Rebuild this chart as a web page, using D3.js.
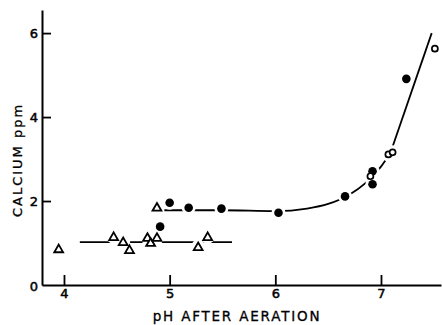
<!DOCTYPE html>
<html><head><meta charset="utf-8">
<script src="https://cdn.jsdelivr.net/npm/d3@7"></script>
<style>
body{margin:0;background:#fff;}
svg text{font-family:"DejaVu Sans",sans-serif;fill:#000;}
</style></head>
<body>
<svg id="c" width="442" height="325"></svg>
<script>
// Data
const triPH = [3.95, 4.47, 4.56, 4.62, 4.79, 4.82, 4.88, 4.88, 5.27, 5.36];
const triCa = [0.86, 1.15, 1.03, 0.84, 1.13, 1.01, 1.13, 1.85, 0.91, 1.15];
const dotPH = [4.91, 5.00, 5.18, 5.49, 6.03, 6.66, 6.92, 6.92, 7.24];
const dotCa = [1.39, 1.96, 1.84, 1.82, 1.72, 2.11, 2.71, 2.40, 4.91];
const openPH = [6.90, 7.07, 7.11, 7.51];
const openCa = [2.59, 3.11, 3.16, 5.63];
const flatPH = [4.15, 5.59];
const flatCa = [1.02, 1.02];
const curvePH = [4.95, 5.5, 6.0, 6.3, 6.5, 6.7, 6.85, 7.0, 7.09];
const curveCa = [1.78, 1.78, 1.76, 1.82, 1.93, 2.15, 2.42, 2.82, 3.15];
const linePH = [7.09, 7.48];
const lineCa = [3.15, 6.0];
const xTicks = [4, 5, 6, 7];
const yTicks = [0, 2, 4, 6];
const xTitle = "pH AFTER AERATION";
const yTitle = "CALCIUM ppm";

const svg = d3.select("#c");
const x = d3.scaleLinear().domain([3.792, 7.568]).range([42, 441]);
const y = d3.scaleLinear().domain([0, 6.55]).range([285, 10]);

// axes
const gx = svg.append("g").attr("transform", "translate(0,285)")
  .call(d3.axisBottom(x).tickValues(xTicks).tickSize(-10).tickPadding(4).tickSizeOuter(0).tickFormat(d3.format("d")));
const gy = svg.append("g").attr("transform", "translate(42,0)")
  .call(d3.axisLeft(y).tickValues(yTicks).tickSize(-9).tickPadding(4).tickSizeOuter(0).tickFormat(d3.format("d")));
[gx, gy].forEach(g => {
  g.select(".domain").attr("stroke", "#000").attr("stroke-width", 2);
  g.selectAll(".tick line").attr("stroke", "#000").attr("stroke-width", 1.8);
  g.selectAll(".tick text").attr("font-size", 13).attr("font-family", "DejaVu Sans")
    .attr("stroke", "#000").attr("stroke-width", 0.5);
});
gy.selectAll(".tick").filter(d => d === 0).select("line").remove();
gy.selectAll(".tick").filter(d => d === 0).select("text").attr("dy", "0.4em");

// titles
svg.append("text").attr("x", 237).attr("y", 321).attr("text-anchor", "middle")
  .attr("font-size", 13.5).attr("letter-spacing", 1.8).attr("stroke", "#000").attr("stroke-width", 0.3).text(xTitle);
svg.append("text").attr("transform", "translate(22,160) rotate(-90)").attr("text-anchor", "middle")
  .attr("font-size", 13).attr("letter-spacing", 2).attr("stroke", "#000").attr("stroke-width", 0.3).text(yTitle);

// lines
const lineGen = d3.line().x(d => x(d[0])).y(d => y(d[1]));
const zip = (a, b) => a.map((v, i) => [v, b[i]]);
svg.append("path").attr("d", lineGen(zip(flatPH, flatCa))).attr("fill", "none").attr("stroke", "#000").attr("stroke-width", 1.8);
svg.append("path").attr("d", lineGen.curve(d3.curveMonotoneX)(zip(curvePH, curveCa))).attr("fill", "none").attr("stroke", "#000").attr("stroke-width", 1.8);
svg.append("path").attr("d", d3.line().x(d => x(d[0])).y(d => y(d[1]))(zip(linePH, lineCa))).attr("fill", "none").attr("stroke", "#000").attr("stroke-width", 1.8);

const tris = zip(triPH, triCa), dots = zip(dotPH, dotCa), opens = zip(openPH, openCa);
// halos
const halo = svg.append("g");
tris.concat(dots).concat(opens).forEach(d => {
  halo.append("circle").attr("cx", x(d[0])).attr("cy", y(d[1])).attr("r", 7).attr("fill", "#fff");
});
// markers
const triPath = d3.symbol().type(d3.symbolTriangle).size(34);
svg.append("g").selectAll("path").data(tris).join("path")
  .attr("d", triPath).attr("transform", d => `translate(${x(d[0])},${y(d[1]) + 0.8})`)
  .attr("fill", "#fff").attr("stroke", "#000").attr("stroke-width", 1.8).attr("stroke-linejoin", "miter");
svg.append("g").selectAll("circle").data(dots).join("circle")
  .attr("cx", d => x(d[0])).attr("cy", d => y(d[1])).attr("r", 4.3).attr("fill", "#000");
svg.append("g").selectAll("circle").data(opens).join("circle")
  .attr("cx", d => x(d[0])).attr("cy", d => y(d[1])).attr("r", 3).attr("fill", "#fff").attr("stroke", "#000").attr("stroke-width", 1.7);
</script>
</body></html>
